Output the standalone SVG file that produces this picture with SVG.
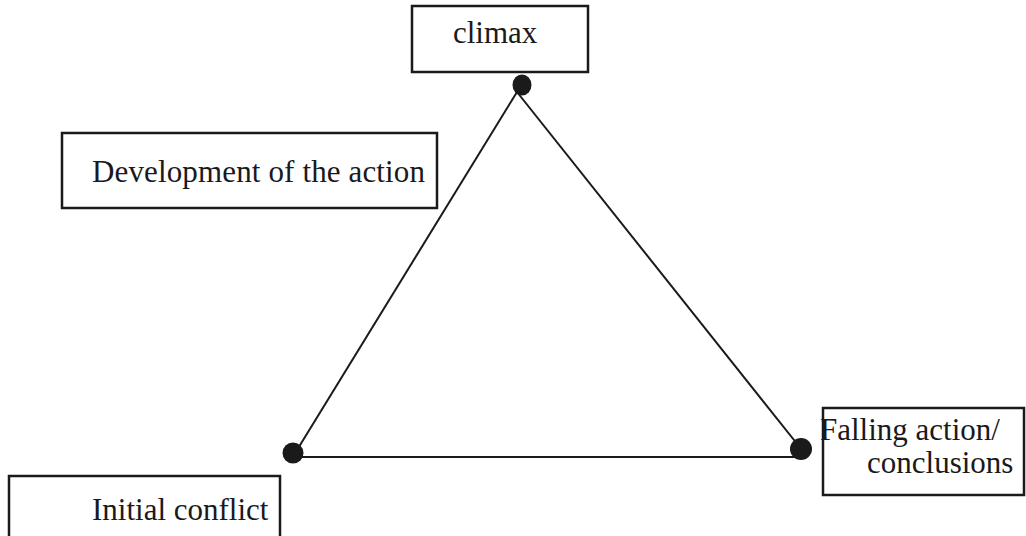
<svg xmlns="http://www.w3.org/2000/svg" width="1026" height="536" viewBox="0 0 1026 536">
<style>
.box{fill:#fff;stroke:#1a1a1a;stroke-width:2.5}
.t{font-family:"Liberation Serif","Times New Roman",serif;font-size:31px;fill:#1a1a1a}
.ln{stroke:#1a1a1a;stroke-width:2;fill:none}
.dot{fill:#1a1a1a}
</style>
<rect width="1026" height="536" fill="#fff"/>
<g id="connectors">
<line class="ln" x1="517" y1="92" x2="297" y2="450"/>
<line class="ln" x1="517" y1="92" x2="798" y2="445"/>
<line class="ln" x1="293" y1="457" x2="801" y2="457"/>
</g>
<g id="climax">
<rect class="box" x="412" y="6" width="176" height="66"/>
<text class="t" x="453" y="43">climax</text>
<ellipse class="dot" cx="522" cy="85" rx="9.5" ry="10.5"/>
</g>
<g id="development">
<rect class="box" x="62" y="133" width="375" height="75"/>
<text class="t" x="92" y="182" textLength="333" lengthAdjust="spacing">Development of the action</text>
</g>
<g id="initial">
<rect class="box" x="9" y="476" width="271" height="70"/>
<text class="t" x="92" y="520">Initial conflict</text>
<circle class="dot" cx="293" cy="453" r="10.5"/>
</g>
<g id="falling">
<rect class="box" x="823" y="408" width="201" height="87"/>
<text class="t" x="820" y="440">Falling action/</text>
<text class="t" x="867" y="473">conclusions</text>
<circle class="dot" cx="801" cy="449" r="11"/>
</g>
</svg>
